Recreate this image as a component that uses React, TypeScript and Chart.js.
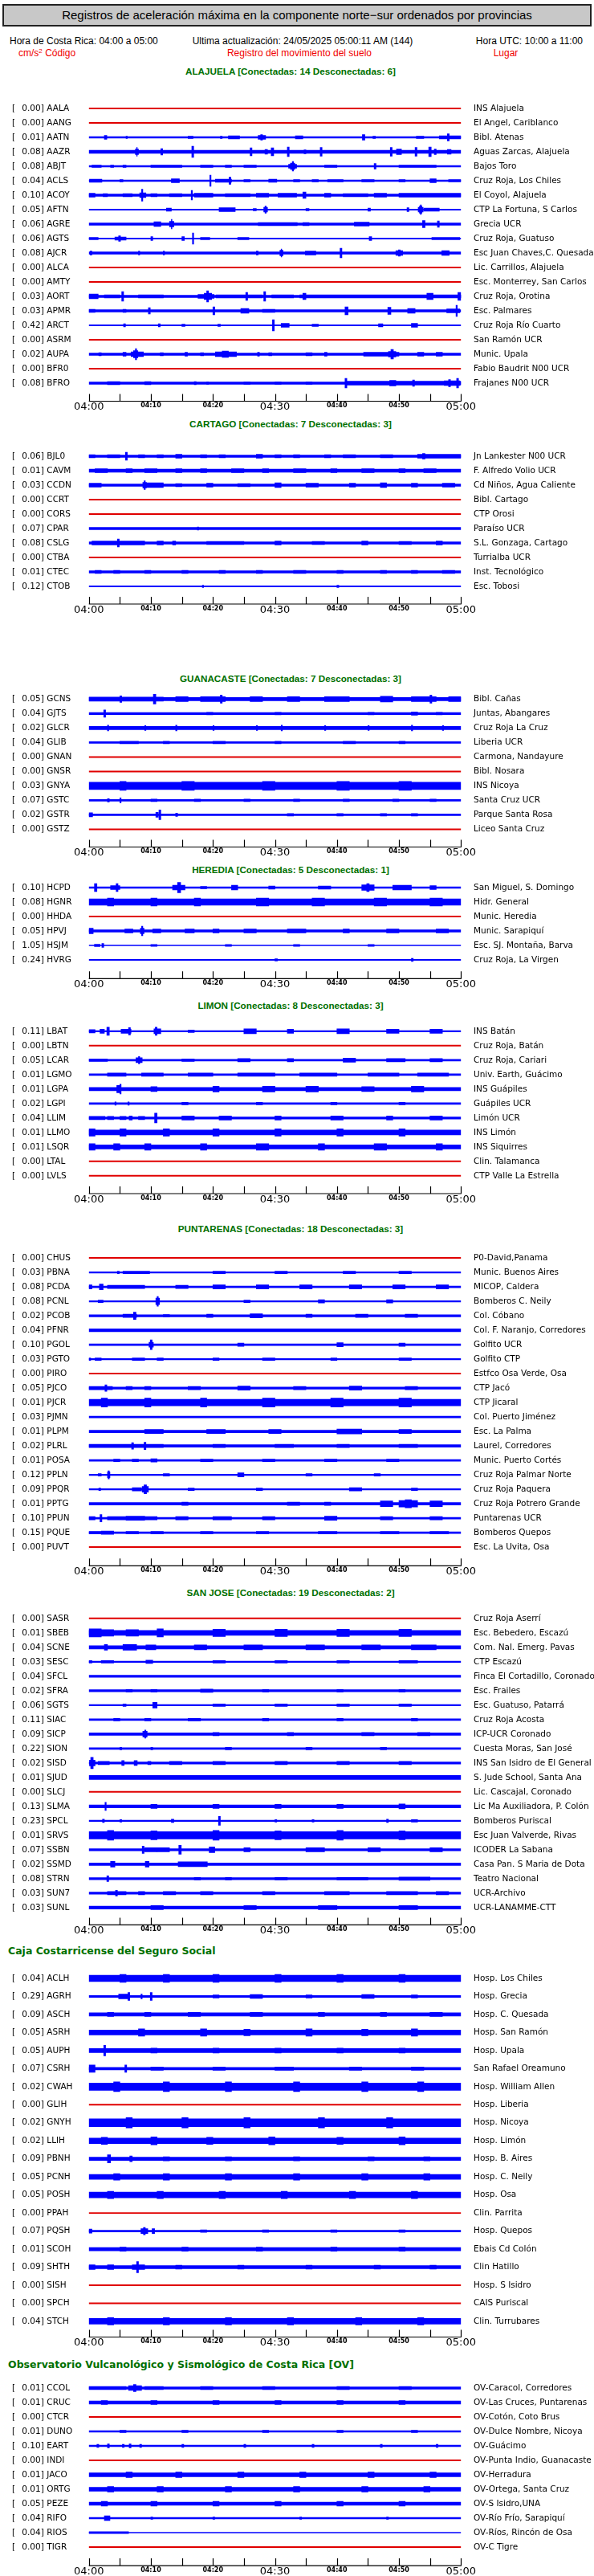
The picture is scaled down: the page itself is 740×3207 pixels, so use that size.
import React, { useEffect, useRef } from "react";
import { Chart, registerables } from "chart.js";

Chart.register(...registerables);

// ---------- axis ticks ----------
const TICK_LABELS = ["04:00", "", "04:10", "", "04:20", "", "04:30", "", "04:40", "", "04:50", "", "05:00"];

// ---------- ALAJUELA ----------
const ALAJUELA_CODES = ["AALA", "AANG", "AATN", "AAZR", "ABJT", "ACLS", "ACOY", "AFTN", "AGRE", "AGTS", "AJCR", "ALCA", "AMTY", "AORT", "APMR", "ARCT", "ASRM", "AUPA", "BFR0", "BFRO"];
const ALAJUELA_PGA = ["0.00", "0.00", "0.01", "0.08", "0.08", "0.04", "0.10", "0.05", "0.06", "0.06", "0.08", "0.00", "0.00", "0.03", "0.03", "0.42", "0.00", "0.02", "0.00", "0.08"];
const ALAJUELA_PLACES = ["INS Alajuela", "El Angel, Cariblanco", "Bibl. Atenas", "Aguas Zarcas, Alajuela", "Bajos Toro", "Cruz Roja, Los Chiles", "El Coyol, Alajuela", "CTP La Fortuna, S Carlos", "Grecia UCR", "Cruz Roja, Guatuso", "Esc Juan Chaves,C. Quesada", "Lic. Carrillos, Alajuela", "Esc. Monterrey, San Carlos", "Cruz Roja, Orotina", "Esc. Palmares", "Cruz Roja Río Cuarto", "San Ramón UCR", "Munic. Upala", "Fabio Baudrit N00 UCR", "Frajanes N00 UCR"];
const ALAJUELA_TRACES = [
  "", "",
  "2|2.5-2.9:5 6-6.2:3 16-16.8:3 21.2-21.5:3 22.5-24.3:4 27.3-28.5:5 27.7-28:7 33.3-34.5:4 44.1-44.5:7 45.8-46.2:3 52.8-54:3 56.5-60:4 57.8-58.1:9",
  "4|7.5-8:7 7.7-7.8:11 11.6-11.9:8 16.6-16.9:14 26-26.3:10 28.4-28.8:6 29.4-29.8:10 32-32.3:12 34.7-35:5 37.3-37.6:11 48.6-48.9:11 49.6-50.4:7 52.6-52.9:11 54.8-55.2:12 55.7-56:7 57.8-58.4:6",
  "2|0.5-2:3 3.5-4:3 5.5-6:3 10-15:3 18-20:3 22-23:3 25-27:3 32.2-33.5:5 32.5-33.2:8 32.8-33:12 38-40:3 46-46.3:7 50-56:3",
  "2|0.1-2.1:4 5-5.5:3 13.3-14.6:5 19.5-19.7:14 20.4-23:4 22.6-22.9:9 25-26:3 29-30.3:4 33-34:3 36-37:3 38.5-41:3 44-46:3 50-51:3 55-56:5 58-60:3",
  "3|0-1:5 2.3-3:4 5.5-7:4 8.5-8.7:15 8.2-9.2:6 10-11:4 13-15:4 16.5-16.7:12 17-20:5 22-26:4 27-29:5 30.5-33.5:5 34.5-35:8 38-39:5 41-45:4 46-48:5 50-60:5",
  "1.5|12.5-13.3:4 21-23.6:5 26.5-27:3 28.2-28.8:6 28.4-28.6:9 35-35.5:3 45-45.4:4 51.3-51.6:5 53.1-53.9:6 53.3-53.7:9 53.45-53.6:12 54-56.5:4",
  "3|10.5-11.6:6 13-13.7:7 13.3-13.4:12 27.3-33.6:4 34.5-35.5:4 42.8-45.2:5 53.8-54.2:9 56.2-56.5:8",
  "1.5|0-1.5:3 4.2-6:4 4.8-5.1:7 10-10.3:5 15-15.4:5 16.7-16.9:14 18-19.5:3 24-25.8:3 45.2-45.6:5 55.3-59.8:3",
  "3|0.2-0.5:5 8-8.2:5 12-12.2:5 27-27.3:5 30.8-31.3:7 31-31.1:10 34.9-36.6:5 40.5-40.8:12 49.5-50.6:6 49.9-50.2:8 56.9-58.1:6",
  "", "",
  "3|0-1.5:6 2.5-5:4 5.3-5.6:12 8-12:4 17.6-20.2:5 18.6-19.8:8 19-19.3:14 20.5-28:4 25.3-25.6:10 28.2-28.5:12 29.5-33:4 34-60:4 34.5-35:8 54.5-55.5:8 59.5-60:10",
  "3|0-1:4 5.5-6:4 9.6-9.9:8 20-20.3:10 24.5-25.8:6 28-30:4 41.3-41.8:10 48.2-48.7:9 51.4-52.6:6 57.7-59.8:5 59.2-59.4:14",
  "1.5|5.6-5.9:4 11.2-11.5:4 15-15.5:3 20.8-21.2:3 29.6-29.9:14 31-32.3:5 36-37:3 46.7-47.4:4 52-53:5",
  "",
  "3|1.6-2:4 5.5-6:5 6.8-8.8:6 7.2-7.9:9 7.5-7.7:14 11.5-12:4 15.5-15.9:5 18-18.5:4 20.4-23.8:6 21.5-22.5:8 27.2-27.5:5 29-29.5:4 35-36:4 38-38.4:5 44.3-50:5 48.3-49.5:7 48.7-49.1:12 53-54:5 56-57:5",
  "",
  "3|3-5:4 9-10:4 17-17.3:4 19-19.3:3 25-26:3 30-31:3 35-36:3 41.3-41.6:12 41.5-60:5 48.5-49.5:7 52.2-52.5:8 57.3-59.8:6 58-58.3:9 59.3-59.6:12",
];

// ---------- CARTAGO ----------
const CARTAGO_CODES = ["BJL0", "CAVM", "CCDN", "CCRT", "CORS", "CPAR", "CSLG", "CTBA", "CTEC", "CTOB"];
const CARTAGO_PGA = ["0.06", "0.01", "0.03", "0.00", "0.00", "0.07", "0.08", "0.00", "0.01", "0.12"];
const CARTAGO_PLACES = ["Jn Lankester N00 UCR", "F. Alfredo Volio UCR", "Cd Niños, Agua Caliente", "Bibl. Cartago", "CTP Orosi", "Paraíso UCR", "S.L. Gonzaga, Cartago", "Turrialba UCR", "Inst. Tecnológico", "Esc. Tobosi"];
const CARTAGO_TRACES = [
  "3|0-1:4 3-5:4 5.9-6.2:10 8-9:4 11-12:4 14-15:5 18-19:4 21-22:4 27-28:5 30-31:4 33-34:4 38-39:4 41-43:4 47-49:4 53-60:5 53.8-54.2:7",
  "4|1-3:5 6-7:5 9-11:5 14-15:5 18-19:5 23-25:5 28-29:5 33-35:5 39-40:5 44-46:5 50-51:5 54-56:5",
  "3|0-2:5 8.7-9.3:7 8.9-9.1:11 9.3-12:6 14-15:4 19-20:5 24-26:4 30-31:6 35-37:5 42-43:5 47-48:6 52-53:5 57-59:5",
  "", "",
  "3|17.5-17.7:4",
  "3|0.5-9:5 4.6-4.9:10 11-12:5 13.5-14:5 19-25:4 30-31:5 36-38:4 44-45:5 50-52:4 56-57:5",
  "",
  "3|1-2:4 4-5:4 9-10:4 15-16:4 21-22:4 27-28:4 33-35:4 40-41:4 47-48:4 52-53:4 57-59:4",
  "1.2|18.3-18.5:3 40-40.3:3",
];

// ---------- GUANACASTE ----------
const GUANACASTE_CODES = ["GCNS", "GJTS", "GLCR", "GLIB", "GNAN", "GNSR", "GNYA", "GSTC", "GSTR", "GSTZ"];
const GUANACASTE_PGA = ["0.05", "0.04", "0.02", "0.04", "0.00", "0.00", "0.03", "0.07", "0.02", "0.00"];
const GUANACASTE_PLACES = ["Bibl. Cañas", "Juntas, Abangares", "Cruz Roja La Cruz", "Liberia UCR", "Carmona, Nandayure", "Bibl. Nosara", "INS Nicoya", "Santa Cruz UCR", "Parque Santa Rosa", "Liceo Santa Cruz"];
const GUANACASTE_TRACES = [
  "4|0-12:5 5-5.3:8 10.4-10.8:12 14-16:6 18-22:6 21.2-21.5:10 26-28:6 32-34:6 38-42:6 47-49:7 52-56:6 55-55.3:10 58-60:6",
  "2.5|2.4-2.7:9 19-20:3 30-31:3 45-46:3 52-53:4 56-57:3",
  "4|3-3.2:7 9-9.2:6 14-14.2:7 20-20.2:6 27-27.2:6 31-31.2:7 38-38.2:6 45-45.2:6 52-52.2:7 57-57.2:6",
  "2|5-8:3 12-13:3 20-22:3 30-31:3 41-43:3 50-51:3",
  "", "",
  "9|5-6:11 15-17:11 28-30:11 40-42:11 50-52:11",
  "2|3-3.3:4 5-5.2:6 10-11:3 17-18:3 25-26:3 33-34:3 41-42:3 49-50:3 55-56:3",
  "2|0-0.6:5 10.8-11.2:6 11.3-11.6:12 14-14.3:4 32-33:3 40-41:3 47-48:3 52-53:3",
  "",
];

// ---------- HEREDIA ----------
const HEREDIA_CODES = ["HCPD", "HGNR", "HHDA", "HPVJ", "HSJM", "HVRG"];
const HEREDIA_PGA = ["0.10", "0.08", "0.00", "0.05", "1.05", "0.24"];
const HEREDIA_PLACES = ["San Miguel, S. Domingo", "Hidr. General", "Munic. Heredia", "Munic. Sarapiquí", "Esc. SJ. Montaña, Barva", "Cruz Roja, La Virgen"];
const HEREDIA_TRACES = [
  "2|0.9-1.3:10 3.5-5:5 4.4-4.7:10 13.5-15.5:6 14.3-14.8:13 18-19:3 23-24:6 29-30:4 37-39:4 44-46:7 44.8-45.2:10 49-52:6 55-56:5",
  "8|3-4:10 10-11:10 17-18:10 27-29:10 36-38:10 46-48:10 55-57:10",
  "",
  "3|0-0.7:7 5.8-7.1:5 8.3-8.9:7 8.5-8.7:12 10.3-11.6:5 15.5-17:5 20-21:5 25-27:5 32-35:5 41-42:5 48-50:5 56-58:5",
  "1|0.9-1.8:3 2.1-2.4:5 10-11:2.5 22-23:2.5 33-34:2.5 45-46:2.5",
  "1.5|30-30.4:3 52-52.3:4",
];

// ---------- LIMON ----------
const LIMON_CODES = ["LBAT", "LBTN", "LCAR", "LGMO", "LGPA", "LGPI", "LLIM", "LLMO", "LSQR", "LTAL", "LVLS"];
const LIMON_PGA = ["0.11", "0.00", "0.05", "0.01", "0.01", "0.02", "0.04", "0.01", "0.01", "0.00", "0.00"];
const LIMON_PLACES = ["INS Batán", "Cruz Roja, Batán", "Cruz Roja, Cariari", "Univ. Earth, Guácimo", "INS Guápiles", "Guápiles UCR", "Limón UCR", "INS Limón", "INS Siquirres", "Clin. Talamanca", "CTP Valle La Estrella"];
const LIMON_TRACES = [
  "1.5|0-1:4 1.8-2.5:5 2.9-3.3:10 5.2-6.8:5 6.4-6.7:9 10.5-11.6:6 10.7-11:10 16-17:3 25-27:6 32-33:5 40-42:6 48-50:5 55-57:5",
  "",
  "2|0-3:3 7.6-8.6:6 8-8.2:9 15-17:3 24-26:4 32-33:4 41-43:5 48-51:4 55-57:4",
  "2|3-6:4 8.5-12:4 16-20:4 24-30:4 34-40:4 45-50:4 53-58:4",
  "4|4.5-5:9 5-5.2:12 10-11:6 20-21:7 28-30:7 35-37:7 44-46:6 52-54:7",
  "2|4.2-4.4:4 6.3-6.5:4 15-16:3 27-28:3 39-40:3 50-51:3",
  "2.5|0-2.6:4 3-4:4 5-6:4 6.5-7:5 8-9:4 10.6-11:12 15-17:5 21-23:5 30-31:5 39-41:5 48-49:5 55-57:5",
  "6|0-1:9 5-6:9 12-13:9 20-21:9 30-31:9 40-41:9 50-51:9",
  "5|0-1:8 4-5:8 9-10:8 18-19:8 27-29:8 37-38:8 46-48:8 56-57:8",
  "", "",
];

// ---------- PUNTARENAS ----------
const PUNTARENAS_CODES = ["CHUS", "PBNA", "PCDA", "PCNL", "PCOB", "PFNR", "PGOL", "PGTO", "PIRO", "PJCO", "PJCR", "PJMN", "PLPM", "PLRL", "POSA", "PPLN", "PPQR", "PPTG", "PPUN", "PQUE", "PUVT"];
const PUNTARENAS_PGA = ["0.00", "0.03", "0.08", "0.08", "0.02", "0.04", "0.10", "0.03", "0.00", "0.05", "0.01", "0.03", "0.01", "0.02", "0.01", "0.12", "0.09", "0.01", "0.10", "0.15", "0.00"];
const PUNTARENAS_PLACES = ["P0-David,Panama", "Munic. Buenos Aires", "MICOP, Caldera", "Bomberos C. Neily", "Col. Cóbano", "Col. F. Naranjo, Corredores", "Golfito UCR", "Golfito CTP", "Estfco Osa Verde, Osa", "CTP Jacó", "CTP Jicaral", "Col. Puerto Jiménez", "Esc. La Palma", "Laurel, Corredores", "Munic. Puerto Cortés", "Cruz Roja Palmar Norte", "Cruz Roja Paquera", "Cruz Roja Potrero Grande", "Puntarenas UCR", "Bomberos Quepos", "Esc. La Uvita, Osa"];
const PUNTARENAS_TRACES = [
  "",
  "1.5|4.6-4.9:3 5.5-9.8:3 20-22:3 30-32:3 41-43:3 50-52:3",
  "2|0-0.5:5 1.7-2.3:7 3-9:4 14-16:4 20-22:5 27-29:5 34-36:5 42-44:5 49-51:5 56-58:5",
  "1.5|1.5-2.3:3 10.8-11.4:8 11-11.2:12 25-26:3 37-38:4 48-49:4",
  "2.5|5.5-7.7:4 7.2-7.6:9 12-13:3 19-20:4 26-28:5 35-36:4 43-45:4 51-53:4",
  "3.5|",
  "2|9.7-10.4:6 9.9-10.2:12 24-25:4 40-41:5 50-51:4",
  "1.5|0-0.3:3 1-2:3 7-9:3 11-12:3 20-21:3 28-30:3 39-40:3 50-52:3",
  "",
  "2.5|0-3.8:4 2.6-2.9:8 6-7:4 9-10:4 16-18:4 24-26:5 33-35:4 42-44:5 51-53:4",
  "8|2-3:11 9-10:11 18-19:11 28-30:11 39-41:11 50-52:11",
  "2|",
  "3|9-12:5 19-22:5 29-31:5 40-44:6 50-52:5",
  "3|0-12:4 6.9-7.2:8 8.9-9.2:9 20-22:4 30-33:4 40-42:4 50-53:4",
  "2|4-5:3 7-8:3 10-11:4 18-20:3 28-30:3 38-40:3 48-50:3",
  "1.5|1.5-2:3 3-3.4:7 3.1-3.3:10 12-13:3 24-25:5 35-36:3 46-47:3",
  "1.5|1.6-1.9:3 7-8.5:4 8.6-9.6:7 8.9-9.3:11 16-17:3 27-28:3 42-44:4 52-53:3",
  "3|15-16:4 32-34:4 38-39:4 47-49:7 50-53:8 51-52:10 55-57:7",
  "2|0-1:4 1.8-2.1:9 3-6:4 6-9:5 9-11:4 14-16:4 20-23:4 28-30:4 38-40:5 47-49:4 55-57:4",
  "2|0-2:3 2-4:4 6-8:3 10-12:3 18-20:3 27-29:3 37-40:3 47-50:3 55-58:3",
  "",
];

// ---------- SAN JOSE ----------
const SANJOSE_CODES = ["SASR", "SBEB", "SCNE", "SESC", "SFCL", "SFRA", "SGTS", "SIAC", "SICP", "SION", "SISD", "SJUD", "SLCJ", "SLMA", "SPCL", "SRVS", "SSBN", "SSMD", "STRN", "SUN7", "SUNL"];
const SANJOSE_PGA = ["0.00", "0.01", "0.04", "0.03", "0.04", "0.02", "0.06", "0.11", "0.09", "0.22", "0.02", "0.01", "0.00", "0.13", "0.23", "0.01", "0.07", "0.02", "0.08", "0.03", "0.03"];
const SANJOSE_PLACES = ["Cruz Roja Aserrí", "Esc. Bebedero, Escazú", "Com. Nal. Emerg. Pavas", "CTP Escazú", "Finca El Cortadillo, Coronado", "Esc. Frailes", "Esc. Guatuso, Patarrá", "Cruz Roja Acosta", "ICP-UCR Coronado", "Cuesta Moras, San José", "INS San Isidro de El General", "S. Jude School, Santa Ana", "Lic. Cascajal, Coronado", "Lic Ma Auxiliadora, P. Colón", "Bomberos Puriscal", "Esc Juan Valverde, Rivas", "ICODER La Sabana", "Casa Pan. S Maria de Dota", "Teatro Nacional", "UCR-Archivo", "UCR-LANAMME-CTT"];
const SANJOSE_TRACES = [
  "",
  "6|0-2:10 2-4:8 6-8:8 11-12:10 20-22:9 30-32:9 40-42:9 50-52:9",
  "4|2.5-3:7 5.5-7.7:7 9.2-10.8:6 17-19:6 25-28:6 35-38:6 44-47:6 52-56:6",
  "1.5|0-0.5:3 2-4:3 9.2-10.3:4 20-22:3 30-32:3 40-42:3 50-53:3",
  "2.5|",
  "2.5|6-7:3 10-11:3 18-20:4 28-29:3 40-41:3 50-51:3",
  "1.5|5.5-6:3 10.3-11:7 20-22:3 30-32:3 40-42:3 50-52:3",
  "2|4-5:3 9-10:3 16-18:3 28-29:3 40-41:3 52-53:3",
  "3|8.7-9.4:7 9-9.2:10 20-21:4 32-33:4 44-46:4 53-55:4",
  "2|5-5.3:3 10-10.3:3 22-23:3 35-36:3 47-48:3",
  "2.5|0.3-0.7:14 0.1-1:7 1.5-3.3:4 5.3-5.7:6 7.3-7.8:6 9.5-10:4 13-15:4 20-22:4 30-32:4 40-42:4 50-52:4",
  "5|",
  "",
  "3.5|2.6-2.8:10 10-11:5 20-21:5 30-31:5 40-41:5 50-51:6",
  "1.5|2.2-2.5:4 5-5.3:3 13.3-13.7:4 20.9-21.2:11 30-30.3:3 36-36.3:3 48-48.3:4 52-53:3",
  "9|3-4:12 10-11:11 20-21:12 30-31:11 40-41:12 50-51:11",
  "2.5|8.6-8.9:9 9-11:5 11-13:5 14.5-14.9:11 19.4-20.3:7 25-26:5 35-38:5 45-47:5 55-57:5",
  "3|3.5-4.2:7 9.1-9.7:7 14.4-19.1:6",
  "2.5|2.9-3.2:7 17-18:3 22-23:3 30-32:3 40-45:3 50-55:4",
  "2.5|3-6:4 4.3-4.6:7 8-9:4 12-14:4 18-20:4 28-30:4 38-42:4 48-53:4 56-58:4",
  "3.5|10-12:5 25-27:5 37-40:5 50-53:5",
];

// ---------- CAJA COSTARRICENSE ----------
const CAJA_CODES = ["ACLH", "AGRH", "ASCH", "ASRH", "AUPH", "CSRH", "CWAH", "GLIH", "GNYH", "LLIH", "PBNH", "PCNH", "POSH", "PPAH", "PQSH", "SCOH", "SHTH", "SISH", "SPCH", "STCH"];
const CAJA_PGA = ["0.04", "0.29", "0.09", "0.05", "0.05", "0.07", "0.02", "0.00", "0.02", "0.02", "0.09", "0.05", "0.05", "0.00", "0.07", "0.01", "0.09", "0.00", "0.00", "0.04"];
const CAJA_PLACES = ["Hosp. Los Chiles", "Hosp. Grecia", "Hosp. C. Quesada", "Hosp. San Ramón", "Hosp. Upala", "San Rafael Oreamuno", "Hosp. William Allen", "Hosp. Liberia", "Hosp. Nicoya", "Hosp. Limón", "Hosp. B. Aires", "Hosp. C. Neily", "Hosp. Osa", "Clin. Parrita", "Hosp. Quepos", "Ebais Cd Colón", "Clin Hatillo", "Hosp. S Isidro", "CAIS Puriscal", "Clin. Turrubares"];
const CAJA_TRACES = [
  "8|5-6:10 12-13:10 20-21:10 30-31:10 40-41:10 50-51:10",
  "2.5|4.8-6.4:6 6.3-6.6:10 8.4-8.6:6 9.9-10.2:10 20-21:4 26-28:5 35-36:4 44-46:5 52-53:4",
  "4|3-4:5 9-10:5 16-18:5 26-28:5 37-38:5 47-48:5 55-57:5",
  "6|8-9:9 18-19:9 25-26:8 35-36:9 44-45:8 52-53:9",
  "5|2.4-2.7:13 10-11:6 20-21:6 30-31:6 40-41:6 50-51:6",
  "3|0-1:9 5.8-6.1:9 10-12:4 20-22:4 30-33:4 42-44:4 52-54:4",
  "9|4-5:12 12-13:12 22-23:12 33-34:12 44-45:12 53-54:12",
  "",
  "10|6-7:13 15-16:13 25-26:13 37-38:13 48-49:13",
  "7|2-3:9 10-11:10 19-20:9 29-30:10 40-41:9 50-51:10",
  "4|3-3.5:10 6.6-7:7 12-13:5 22-23:5 33-34:5 45-46:5 54-55:5",
  "6|4-5:8 12-13:8 22-23:8 33-34:8 44-45:8 54-55:8",
  "7|3-4:9 11-12:9 21-22:9 31-32:9 42-43:9 52-53:9",
  "",
  "2|0-0.5:5 8.4-9.5:6 8.8-9.1:9 10.2-10.6:6 18-19:3 28-29:3 39-40:3 50-51:3",
  "4|5-6:5 15-16:5 27-28:5 39-40:5 50-51:5",
  "4|0-1:6 3-4:6 7-9:6 7.7-8:14 14-15:5 24-25:5 35-36:5 46-47:5 55-56:5",
  "", "",
  "7|3-4:9 12-13:9 22-23:9 32-33:9 43-44:9 53-54:9",
];

// ---------- OVSICORI ----------
const OV_CODES = ["CCOL", "CRUC", "CTCR", "DUNO", "EART", "INDI", "JACO", "ORTG", "PEZE", "RIFO", "RIOS", "TIGR"];
const OV_PGA = ["0.01", "0.01", "0.00", "0.01", "0.10", "0.00", "0.01", "0.01", "0.05", "0.04", "0.04", "0.00"];
const OV_PLACES = ["OV-Caracol, Corredores", "OV-Las Cruces, Puntarenas", "OV-Cotón, Coto Brus", "OV-Dulce Nombre, Nicoya", "OV-Guácimo", "OV-Punta Indio, Guanacaste", "OV-Herradura", "OV-Ortega, Santa Cruz", "OV-S Isidro,UNA", "OV-Río Frío, Sarapiquí", "OV-Ríos, Rincón de Osa", "OV-C Tigre"];
const OV_TRACES = [
  "3|0-6:4 6.4-8.5:6 7.2-7.6:9 9-12:4 18-20:4 28-30:4 40-42:4 50-52:4",
  "4|2-3:5 10-11:5 20-21:5 30-31:5 40-41:5 50-51:5",
  "",
  "2|5-6:3 15-16:3 28-29:3 40-41:3 52-53:3",
  "2|1.3-1.6:4 3-3.3:5 5.4-5.7:4 6.5-6.8:5 8.2-8.5:4 15-15.3:4 25-25.3:4 36-36.3:4 47-47.3:4 56-56.3:4",
  "",
  "5|6-7:7 14-15:7 24-25:7 34-35:7 45-46:7 55-56:7",
  "5|3-4:7 11-12:7 22-23:7 33-34:7 44-45:7 54-55:7",
  "4|2-3:6 10-11:6 20-21:6 30-31:6 40-41:6 50-51:6",
  "2|2.5-3.4:6 10-10.3:3 20-20.3:3 34-34.3:3 48-48.3:3",
  "1|0-6.4:2.5",
  "",
];

// ---------- section layout ----------
type Section = {
  key: string;
  title: string;
  titleY: number;
  titleLeft: boolean;
  firstRow: number;
  spacing: number;
  axisY: number;
  codes: string[];
  pga: string[];
  places: string[];
  traces: string[];
};

const SECTIONS: Section[] = [
  { key: "ala", title: "ALAJUELA [Conectadas: 14 Desconectadas: 6]", titleY: 89, titleLeft: false, firstRow: 135, spacing: 18, axisY: 499, codes: ALAJUELA_CODES, pga: ALAJUELA_PGA, places: ALAJUELA_PLACES, traces: ALAJUELA_TRACES },
  { key: "car", title: "CARTAGO [Conectadas: 7 Desconectadas: 3]", titleY: 528, titleLeft: false, firstRow: 568, spacing: 18, axisY: 751.5, codes: CARTAGO_CODES, pga: CARTAGO_PGA, places: CARTAGO_PLACES, traces: CARTAGO_TRACES },
  { key: "gua", title: "GUANACASTE [Conectadas: 7 Desconectadas: 3]", titleY: 845, titleLeft: false, firstRow: 870.4, spacing: 18, axisY: 1054, codes: GUANACASTE_CODES, pga: GUANACASTE_PGA, places: GUANACASTE_PLACES, traces: GUANACASTE_TRACES },
  { key: "her", title: "HEREDIA [Conectadas: 5 Desconectadas: 1]", titleY: 1083, titleLeft: false, firstRow: 1105, spacing: 18, axisY: 1217.8, codes: HEREDIA_CODES, pga: HEREDIA_PGA, places: HEREDIA_PLACES, traces: HEREDIA_TRACES },
  { key: "lim", title: "LIMON [Conectadas: 8 Desconectadas: 3]", titleY: 1252, titleLeft: false, firstRow: 1283.8, spacing: 18, axisY: 1485.5, codes: LIMON_CODES, pga: LIMON_PGA, places: LIMON_PLACES, traces: LIMON_TRACES },
  { key: "pun", title: "PUNTARENAS [Conectadas: 18 Desconectadas: 3]", titleY: 1530, titleLeft: false, firstRow: 1566.1, spacing: 18, axisY: 1948.8, codes: PUNTARENAS_CODES, pga: PUNTARENAS_PGA, places: PUNTARENAS_PLACES, traces: PUNTARENAS_TRACES },
  { key: "sjo", title: "SAN JOSE [Conectadas: 19 Desconectadas: 2]", titleY: 1983, titleLeft: false, firstRow: 2014.8, spacing: 18, axisY: 2395.9, codes: SANJOSE_CODES, pga: SANJOSE_PGA, places: SANJOSE_PLACES, traces: SANJOSE_TRACES },
  { key: "ccs", title: "Caja Costarricense del Seguro Social", titleY: 2429, titleLeft: true, firstRow: 2463, spacing: 22.47, axisY: 2909, codes: CAJA_CODES, pga: CAJA_PGA, places: CAJA_PLACES, traces: CAJA_TRACES },
  { key: "ov", title: "Observatorio Vulcanológico y Sismológico de Costa Rica [OV]", titleY: 2943.5, titleLeft: true, firstRow: 2973, spacing: 18, axisY: 3193.6, codes: OV_CODES, pga: OV_PGA, places: OV_PLACES, traces: OV_TRACES },
];

const BLUE = "#0000ff";
const RED = "#e00000";
const AXIS_BOX = 24;

function parseTrace(s: string): { base: number; bursts: number[][] } | null {
  if (!s) return null;
  const [b, rest] = s.split("|");
  const bursts = (rest || "")
    .trim()
    .split(/\s+/)
    .filter((t) => t.length > 0)
    .map((t) => {
      const [range, h] = t.split(":");
      const [a, e] = range.split("-");
      return [parseFloat(a), parseFloat(e), parseFloat(h)];
    });
  return { base: parseFloat(b), bursts };
}

function SectionChart({ sec }: { sec: Section }) {
  const ref = useRef<HTMLCanvasElement | null>(null);
  const n = sec.codes.length;
  const canvasTop = Math.floor(sec.firstRow - 10);
  const padTop = sec.firstRow - canvasTop;
  const lastRow = sec.firstRow + (n - 1) * sec.spacing;
  const bottomGap = sec.axisY - lastRow;
  const areaH = sec.axisY - canvasTop;
  const canvasH = Math.round(areaH + AXIS_BOX);
  const axisH = canvasH - areaH;

  useEffect(() => {
    const groups = new Map<string, any>();
    const add = (h: number, color: string, s: number, e: number, row: number) => {
      const k = h + "|" + color;
      if (!groups.has(k)) {
        groups.set(k, {
          type: "bar",
          data: [],
          barThickness: h,
          backgroundColor: color,
          borderWidth: 0,
          borderSkipped: false,
          grouped: false,
          order: h,
        });
      }
      groups.get(k).data.push({ x: [s, e], y: row });
    };
    sec.traces.forEach((tr, i) => {
      const p = parseTrace(tr);
      if (!p) {
        add(1.3, RED, 0, 60, i);
        return;
      }
      add(p.base, BLUE, 0, 60, i);
      p.bursts.forEach(([s, e, h]) => add(h, BLUE, s, e, i));
    });
    const datasets = Array.from(groups.values());

    const labelPlugin = {
      id: "rowLabels" + sec.key,
      afterDraw(chart: any) {
        const ctx = chart.ctx;
        const ys = chart.scales.y;
        const xs = chart.scales.x;
        const area = chart.chartArea;
        ctx.save();
        ctx.strokeStyle = "#000";
        ctx.lineWidth = 1.2;
        ctx.beginPath();
        const by = area.bottom + 0.5;
        ctx.moveTo(area.left, by);
        ctx.lineTo(area.right + 0.5, by);
        xs.ticks.forEach((t: any) => {
          const px = Math.round(xs.getPixelForValue(t.value)) + 0.5;
          ctx.moveTo(px, by);
          ctx.lineTo(px, by - 9);
        });
        ctx.stroke();
        ctx.font = '10.5px "DejaVu Sans"';
        ctx.fillStyle = "#000";
        ctx.textBaseline = "middle";
        ctx.textAlign = "left";
        sec.codes.forEach((code, i) => {
          const py = ys.getPixelForValue(i);
          ctx.fillText("[", 15, py);
          ctx.fillText(sec.pga[i] + "]", 27.3, py);
          ctx.fillText(code, 58.3, py);
          ctx.fillText(sec.places[i], 590, py);
        });
        ctx.restore();
      },
    };

    const chart = new Chart(ref.current as HTMLCanvasElement, {
      type: "bar",
      data: { datasets } as any,
      options: {
        animation: false,
        responsive: false,
        indexAxis: "y",
        layout: { padding: { left: 110.7, right: 165.7, top: 0, bottom: 0 } },
        plugins: { legend: { display: false }, tooltip: { enabled: false } },
        events: [],
        scales: {
          y: {
            type: "linear",
            reverse: true,
            offset: false,
            display: false,
            min: -padTop / sec.spacing,
            max: n - 1 + bottomGap / sec.spacing,
          },
          x: {
            type: "linear",
            offset: false,
            min: 0,
            max: 60,
            grid: { display: false, drawTicks: false },
            border: { display: false },
            afterFit: (s: any) => {
              s.height = axisH;
            },
            ticks: {
              stepSize: 5,
              autoSkip: false,
              maxRotation: 0,
              padding: 0,
              color: "#000",
              callback: (_v: any, idx: number) => TICK_LABELS[idx] ?? "",
              font: (c: any) =>
                c.index % 6 === 0
                  ? { family: "DejaVu Sans", size: 13, lineHeight: 1.2 }
                  : { family: "DejaVu Sans", size: 8, weight: "bold", lineHeight: 1.6 },
            },
          },
        },
      } as any,
      plugins: [labelPlugin],
    });
    return () => chart.destroy();
  }, []);

  return (
    <canvas
      ref={ref}
      width={740}
      height={canvasH}
      style={{ position: "absolute", left: 0, top: canvasTop, width: 740, height: canvasH }}
    />
  );
}

const SANS = '"Liberation Sans", Arial, sans-serif';

export default function App() {
  return (
    <div style={{ position: "absolute", left: 0, top: 0, width: 740, height: 3207, background: "#fff", overflow: "hidden" }}>
      <div
        style={{
          position: "absolute", left: 3, top: 5, width: 734, height: 28, boxSizing: "border-box",
          background: "#c8c8c8", border: "2px solid #222", fontFamily: SANS, fontSize: 15,
          lineHeight: "24px", textAlign: "center", color: "#000",
        }}
      >
        Registros de aceleración máxima en la componente norte−sur ordenados por provincias
      </div>
      <div style={{ position: "absolute", left: 12, top: 44, fontFamily: SANS, fontSize: 12, lineHeight: "14px" }}>
        Hora de Costa Rica: 04:00 a 05:00
      </div>
      <div style={{ position: "absolute", left: 0, width: 754, top: 44, textAlign: "center", fontFamily: SANS, fontSize: 12, lineHeight: "14px" }}>
        Ultima actualización: 24/05/2025 05:00:11 AM (144)
      </div>
      <div style={{ position: "absolute", right: 14, top: 44, fontFamily: SANS, fontSize: 12, lineHeight: "14px" }}>
        Hora UTC: 10:00 a 11:00
      </div>
      <div style={{ position: "absolute", left: 23, top: 59, fontFamily: SANS, fontSize: 12, lineHeight: "14px", color: "#f00000" }}>
        cm/s<sup style={{ fontSize: 8, verticalAlign: "4px", lineHeight: 0 }}>2</sup> Código
      </div>
      <div style={{ position: "absolute", left: 0, width: 746, top: 59, textAlign: "center", fontFamily: SANS, fontSize: 12, lineHeight: "14px", color: "#f00000" }}>
        Registro del movimiento del suelo
      </div>
      <div style={{ position: "absolute", left: 530, width: 200, top: 59, textAlign: "center", fontFamily: SANS, fontSize: 12, lineHeight: "14px", color: "#f00000" }}>
        Lugar
      </div>
      {SECTIONS.map((s) =>
        s.titleLeft ? (
          <div key={"t" + s.key} style={{ position: "absolute", left: 10, top: s.titleY - 8, fontFamily: '"DejaVu Sans", sans-serif', fontWeight: "bold", fontSize: 12.5, lineHeight: "16px", color: "#007000", whiteSpace: "nowrap" }}>
            {s.title}
          </div>
        ) : (
          <div key={"t" + s.key} style={{ position: "absolute", left: 0, width: 724, top: s.titleY - 7, textAlign: "center", fontFamily: SANS, fontWeight: "bold", fontSize: 11.7, lineHeight: "14px", color: "#007000", whiteSpace: "nowrap" }}>
            {s.title}
          </div>
        )
      )}
      {SECTIONS.map((s) => (
        <SectionChart key={s.key} sec={s} />
      ))}
    </div>
  );
}
